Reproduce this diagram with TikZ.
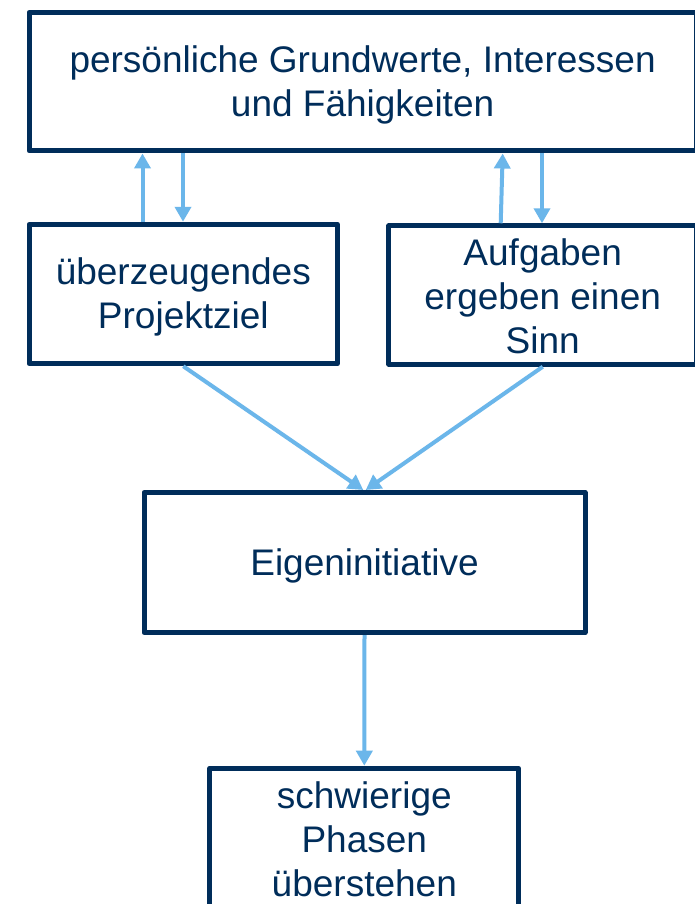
\documentclass[tikz,border=0pt]{standalone}
\usepackage{fontspec}
\setmainfont{Liberation Sans}
\usetikzlibrary{arrows.meta}
\definecolor{navy}{RGB}{0,45,90}
\definecolor{lblue}{RGB}{107,182,234}
\begin{document}
\begin{tikzpicture}[x=1pt,y=-1pt,
  box/.style={draw=navy,line width=5pt,line join=round,fill=white},
  txt/.style={text=navy,align=center,inner sep=0pt,font=\fontsize{37}{44}\selectfont},
  arr/.style={draw=lblue,line width=4pt,-{Triangle[width=16pt,length=15pt]}}]
\useasboundingbox[fill=white] (0,0) rectangle (695,904);
\clip (0,0) rectangle (695,904);
\node[box,minimum width=667pt,minimum height=138.5pt] (top) at (362.6,81.75) {};
\node[txt] (toptxt) at ([yshift=-3.5pt]top.center) {persönliche Grundwerte, Interessen\\und Fähigkeiten};
\node[box,minimum width=308.3pt,minimum height=139.5pt] (lm) at (183.3,294) {};
\node[txt] (lmtxt) at ([yshift=-2.5pt]lm.center) {überzeugendes\\Projektziel};
\node[box,minimum width=307.5pt,minimum height=138.5pt] (rm) at (542.7,295) {};
\node[txt] (rmtxt) at ([yshift=-1.5pt]rm.center) {Aufgaben\\ergeben einen\\Sinn};
\node[box,minimum width=441pt,minimum height=140pt] (eig) at (364.5,562.5) {};
\node[txt] (eigtxt) at ([yshift=-3pt]eig.center) {Eigeninitiative};
\node[box,minimum width=308.7pt,minimum height=140pt] (bot) at (364.3,838.2) {};
\node[txt] (bottxt) at ([yshift=-1.5pt]bot.center) {schwierige\\Phasen\\überstehen};
\draw[arr] ([xshift=-40.8pt]lm.north) -- ([xshift=-220.1pt]top.south);
\draw[arr] ([xshift=-179.6pt]top.south) -- ([xshift=-0.3pt]lm.north);
\draw[arr] ([xshift=-42pt]rm.north) -- ([xshift=140.1pt]top.south);
\draw[arr] ([xshift=179.4pt]top.south) -- ([xshift=-0.7pt]rm.north);
\draw[arr] (lm.south) -- ([xshift=-1.2pt]eig.north);
\draw[arr] (rm.south) -- ([xshift=1.2pt]eig.north);
\draw[arr] (eig.south) -- (bot.north);
\end{tikzpicture}
\end{document}
